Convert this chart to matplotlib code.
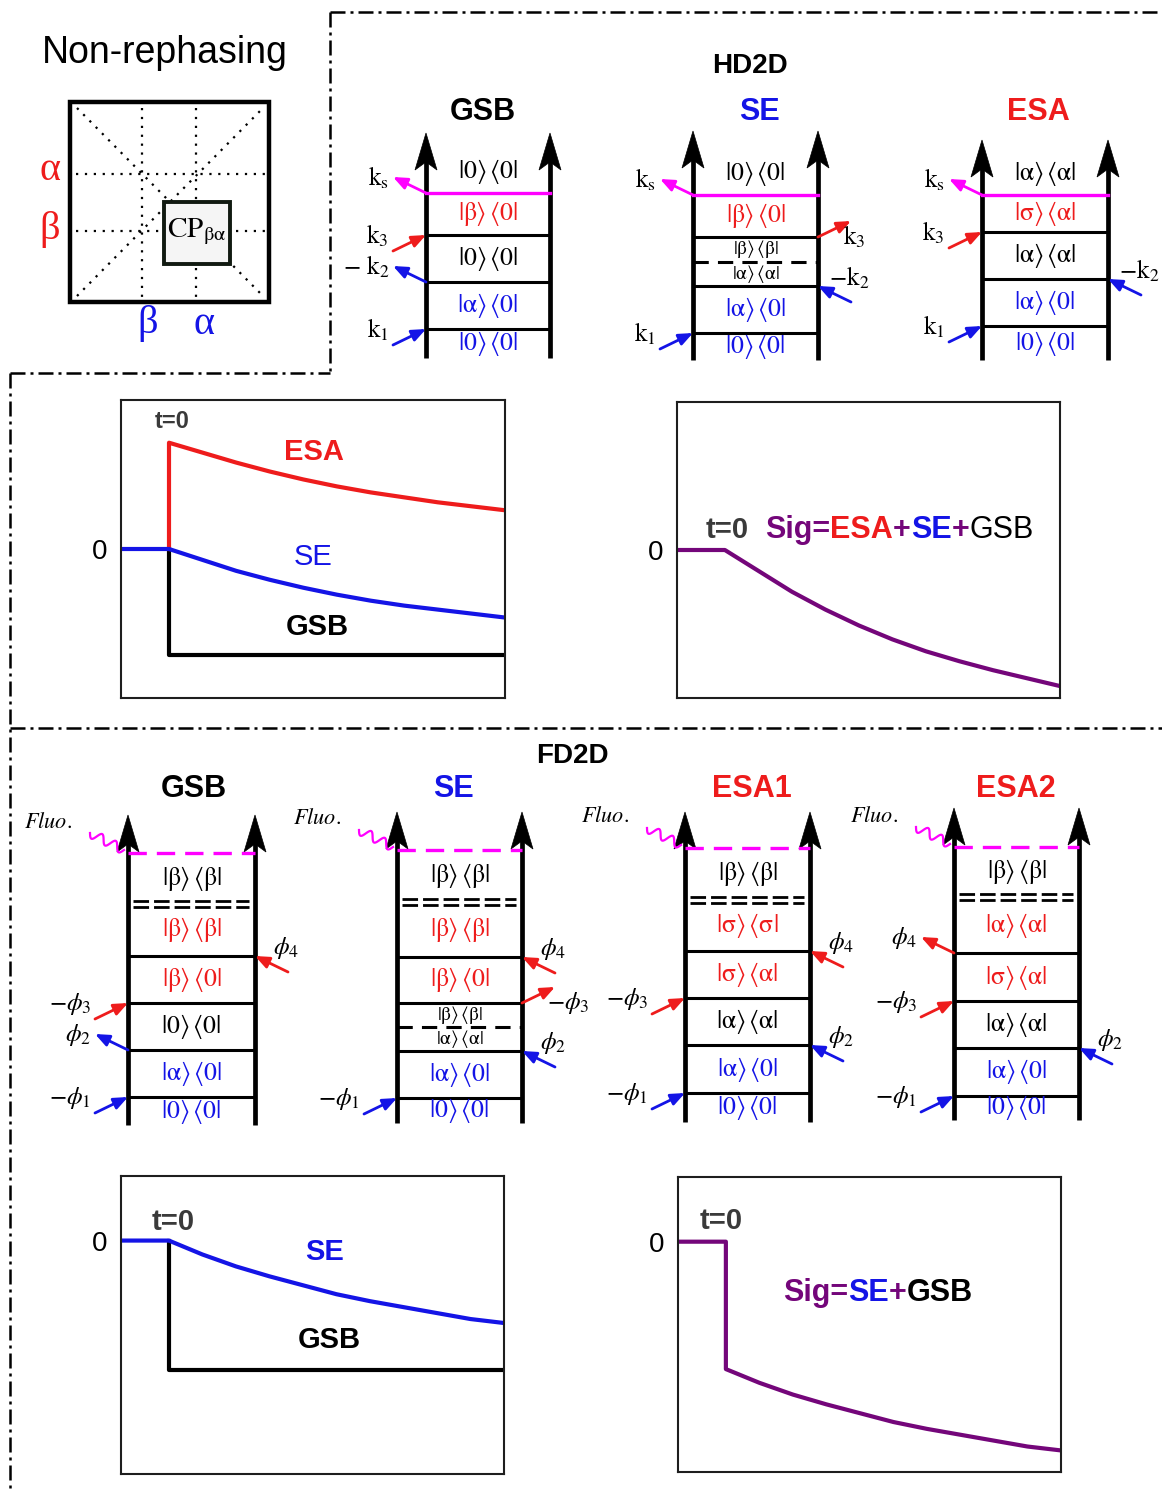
import numpy as np
import matplotlib.pyplot as plt
from matplotlib.patches import Rectangle, Polygon

plt.rcParams['font.family'] = ['Liberation Sans', 'DejaVu Sans']
plt.rcParams['mathtext.fontset'] = 'stix'
plt.rcParams['mathtext.default'] = 'rm'

W, H = 1162, 1493
RED, BLUE, MAG, PURPLE, GREY = '#ee1c1c', '#1414e6', '#ff00ff', '#74067a', '#3a3a3a'
col = {'r': RED, 'b': BLUE, 'k': 'black', 'm': MAG}

# signal traces after t = 0 (arbitrary units)
t = [0.0, 0.7, 1.4, 2.1, 2.8, 3.5, 4.2, 4.9, 5.6, 6.3, 7.0]
hd_esa = [1.07, 0.97, 0.87, 0.78, 0.70, 0.63, 0.57, 0.52, 0.47, 0.43, 0.39]
hd_se = [0.0, -0.11, -0.22, -0.31, -0.39, -0.46, -0.52, -0.57, -0.61, -0.65, -0.69]
hd_gsb = -1.07
fd_se = [0.0, -0.14, -0.26, -0.36, -0.45, -0.54, -0.61, -0.67, -0.73, -0.79, -0.83]
fd_gsb = -1.30

# density-matrix states of each diagram, bottom to top: (ket, bra, colour, small)
A, B, S = r'\alpha', r'\beta', r'\sigma'
hd_gsb_states = [('0', '0', 'b', 0), (A, '0', 'b', 0), ('0', '0', 'k', 0), (B, '0', 'r', 0), ('0', '0', 'k', 0)]
hd_se_states = [('0', '0', 'b', 0), (A, '0', 'b', 0), (A, A, 'k', 1), (B, B, 'k', 1), (B, '0', 'r', 0), ('0', '0', 'k', 0)]
hd_esa_states = [('0', '0', 'b', 0), (A, '0', 'b', 0), (A, A, 'k', 0), (S, A, 'r', 0), (A, A, 'k', 0)]
fd_gsb_states = [('0', '0', 'b', 0), (A, '0', 'b', 0), ('0', '0', 'k', 0), (B, '0', 'r', 0), (B, B, 'r', 0), (B, B, 'k', 0)]
fd_se_states = [('0', '0', 'b', 0), (A, '0', 'b', 0), (A, A, 'k', 1), (B, B, 'k', 1), (B, '0', 'r', 0), (B, B, 'r', 0), (B, B, 'k', 0)]
fd_esa1_states = [('0', '0', 'b', 0), (A, '0', 'b', 0), (A, A, 'k', 0), (S, A, 'r', 0), (S, S, 'r', 0), (B, B, 'k', 0)]
fd_esa2_states = [('0', '0', 'b', 0), (A, '0', 'b', 0), (A, A, 'k', 0), (S, A, 'r', 0), (A, A, 'r', 0), (B, B, 'k', 0)]

# field interactions: (rung, side, direction, label, colour)
k1, k2, k2s, k3, ks = (r'$\mathrm{k}_1$', r'$-\mathrm{k}_2$', r'$-\ \mathrm{k}_2$',
                       r'$\mathrm{k}_3$', r'$\mathrm{k}_\mathrm{s}$')
p1, p2, p3, p4 = (r'$-\mathit{\phi}_1$', r'$\mathit{\phi}_2$', r'$-\mathit{\phi}_3$', r'$\mathit{\phi}_4$')
hd_gsb_fields = [(0, 'L', 'in', k1, 'b'), (1, 'L', 'out', k2s, 'b'), (2, 'L', 'in', k3, 'r'), (3, 'L', 'out', ks, 'm')]
hd_se_fields = [(0, 'L', 'in', k1, 'b'), (1, 'R', 'in', k2, 'b'), (3, 'R', 'out', k3, 'r'), (4, 'L', 'out', ks, 'm')]
hd_esa_fields = [(0, 'L', 'in', k1, 'b'), (1, 'R', 'in', k2, 'b'), (2, 'L', 'in', k3, 'r'), (3, 'L', 'out', ks, 'm')]
fd_gsb_fields = [(0, 'L', 'in', p1, 'b'), (1, 'L', 'out', p2, 'b'), (2, 'L', 'in', p3, 'r'), (3, 'R', 'in', p4, 'r')]
fd_se_fields = [(0, 'L', 'in', p1, 'b'), (1, 'R', 'in', p2, 'b'), (3, 'R', 'out', p3, 'r'), (4, 'R', 'in', p4, 'r')]
fd_esa1_fields = [(0, 'L', 'in', p1, 'b'), (1, 'R', 'in', p2, 'b'), (2, 'L', 'in', p3, 'r'), (3, 'R', 'in', p4, 'r')]
fd_esa2_fields = [(0, 'L', 'in', p1, 'b'), (1, 'R', 'in', p2, 'b'), (2, 'L', 'in', p3, 'r'), (3, 'L', 'out', p4, 'r')]

fig = plt.figure(figsize=(W / 100, H / 100), dpi=100)
ax = fig.add_axes([0, 0, 1, 1])
ax.set_xlim(0, W)
ax.set_ylim(H, 0)
ax.axis('off')

# panel separators
dd = dict(color='black', lw=1.8, linestyle=(0, (6, 2, 1.2, 2)))
for xs, ys in [([330, 1162], [12, 12]), ([330, 330], [12, 373]), ([10, 330], [373, 373]),
               ([10, 10], [373, 1493]), ([10, 1162], [728, 728])]:
    ax.plot(xs, ys, **dd)

# non-rephasing 2D map sketch
ax.text(165, 53, 'Non-rephasing', fontsize=27, ha='center', va='center')
ax.add_patch(Rectangle((70, 102), 199, 200, fill=False, lw=3.2, ec='black'))
dot = dict(color='black', lw=1.6, linestyle=(0, (1, 3)))
for x in (142, 196):
    ax.plot([x, x], [108, 297], **dot)
for y in (174, 231):
    ax.plot([76, 265], [y, y], **dot)
ax.plot([77, 263], [108, 296], **dot)
ax.plot([77, 263], [296, 108], **dot)
ax.add_patch(Rectangle((164, 202), 66, 62, fc='#f5f5f5', ec='#111a11', lw=2.8, zorder=3))
ax.text(197, 232, r'$\mathrm{CP}_{\beta\alpha}$', fontsize=21, ha='center', va='center', zorder=4)
greek = dict(fontsize=29, ha='center', va='center', family='Liberation Serif')
ax.text(50, 170, 'α', color=RED, **greek)
ax.text(50, 229, 'β', color=RED, **greek)
ax.text(148, 324, 'β', color=BLUE, **greek)
ax.text(204, 324, 'α', color=BLUE, **greek)


def ladder(xl, xr, ytop, ybot, rungs, states, fields, hd=True):
    for x in (xl, xr):
        ax.plot([x, x], [ybot, ytop + 25], color='black', lw=3.4, solid_capstyle='butt')
        ax.add_patch(Polygon([(x, ytop), (x + 11, ytop + 37), (x, ytop + 29), (x - 11, ytop + 37)],
                             closed=True, fc='black', ec='black', lw=0.5))
    for y, kind in rungs:
        if kind == '-':
            ax.plot([xl, xr], [y, y], color='black', lw=2.2)
        elif kind == 'm':
            ax.plot([xl, xr], [y, y], color=MAG, lw=2.4)
        elif kind == 'm--':
            ax.plot([xl, xr], [y, y], color=MAG, lw=2.4, linestyle=(0, (5.5, 3)))
        elif kind == '--':
            ax.plot([xl, xr], [y, y], color='black', lw=2.2, linestyle=(0, (5, 3)))
        elif kind == '=':
            for dy in (-3, 3):
                ax.plot([xl + 5, xr - 6], [y + dy, y + dy], color='black', lw=2.0, linestyle=(0, (5.6, 1.8)))
    bounds = [ybot] + [y for y, _ in rungs]
    if hd:
        bounds.append(rungs[-1][0] - 44)
    for i, (a, b, c, small) in enumerate(states):
        ym = (bounds[i] + bounds[i + 1]) / 2
        ax.text((xl + xr) / 2, ym, r'$|%s\rangle\,\langle %s|$' % (a, b), color=col[c],
                fontsize=14 if small else 18.5, ha='center', va='center')
    for idx, side, way, lab, c in fields:
        y = rungs[idx][0]
        x = xl if side == 'L' else xr
        sx = -1 if side == 'L' else 1
        if way == 'in':
            outer = (x + 33 * sx, y + 16)
            tail, tip = outer, (x, y)
        else:
            outer = (x + 33 * sx, y - 16)
            tail, tip = (x, y), outer
        ax.annotate('', xy=tip, xytext=tail,
                    arrowprops=dict(arrowstyle='-|>,head_length=0.6,head_width=0.25', color=col[c],
                                    lw=2, shrinkA=0, shrinkB=0, mutation_scale=14))
        if side == 'L':
            lx, ha = outer[0] - 4, 'right'
            ly = outer[1] - 15 if way == 'in' else outer[1] + 1
        elif way == 'in':
            lx, ha = outer[0] - 2, 'center'
            ly = outer[1] - 24
        else:
            lx, ha = outer[0] - 8, 'left'
            ly = outer[1] + 16
        ax.text(lx, ly, lab, fontsize=18, ha=ha, va='center')
    if not hd:
        # emitted fluorescence
        ym = rungs[-1][0]
        s = np.linspace(0, 1, 120)
        p0 = np.array([xl - 38, ym - 20])
        d = np.array([34, 17])
        n = np.array([-d[1], d[0]]) / np.hypot(*d)
        pts = p0[None, :] + s[:, None] * d[None, :] + 4.5 * np.sin(2 * np.pi * 2.5 * s)[:, None] * n[None, :]
        ax.plot(pts[:, 0], pts[:, 1], color=MAG, lw=1.6)
        ax.text(xl - 80, ym - 31, r'$\mathit{Fluo.}$', fontsize=16, ha='center', va='center')


title = dict(fontsize=22, fontweight='bold', ha='center', va='center')
ax.text(750, 66, 'HD2D', fontsize=20, fontweight='bold', ha='center', va='center')
ax.text(483, 112, 'GSB', color='black', **title)
ax.text(759, 112, 'SE', color=BLUE, **title)
ax.text(1038, 112, 'ESA', color=RED, **title)
ladder(426, 550, 133, 358, [(329, '-'), (282, '-'), (235, '-'), (193, 'm')], hd_gsb_states, hd_gsb_fields)
ladder(693, 818, 131, 360, [(333, '-'), (286, '-'), (262, '--'), (237, '-'), (195, 'm')], hd_se_states, hd_se_fields)
ladder(982, 1108, 140, 360, [(326, '-'), (279, '-'), (232, '-'), (195, 'm')], hd_esa_states, hd_esa_fields)

ax.text(572, 756, 'FD2D', fontsize=20, fontweight='bold', ha='center', va='center')
ax.text(194, 789, 'GSB', color='black', **title)
ax.text(453, 789, 'SE', color=BLUE, **title)
ax.text(752, 789, 'ESA1', color=RED, **title)
ax.text(1016, 789, 'ESA2', color=RED, **title)
ladder(128, 255, 815, 1125, [(1097, '-'), (1050, '-'), (1003, '-'), (956, '-'), (904, '='), (853, 'm--')],
       fd_gsb_states, fd_gsb_fields, hd=False)
ladder(397, 522, 812, 1123, [(1098, '-'), (1051, '-'), (1027, '--'), (1003, '-'), (957, '-'), (902, '='), (850, 'm--')],
       fd_se_states, fd_se_fields, hd=False)
ladder(685, 810, 812, 1122, [(1093, '-'), (1045, '-'), (998, '-'), (951, '-'), (900, '='), (848, 'm--')],
       fd_esa1_states, fd_esa1_fields, hd=False)
ladder(954, 1079, 808, 1120, [(1096, '-'), (1048, '-'), (1001, '-'), (953, '-'), (897, '='), (847, 'm--')],
       fd_esa2_states, fd_esa2_fields, hd=False)


def sig_axes(x0, y0, x1, y1, ylim):
    a = fig.add_axes([x0 / W, 1 - y1 / H, (x1 - x0) / W, (y1 - y0) / H])
    a.set_xlim(-1, 7)
    a.set_ylim(*ylim)
    a.set_xticks([])
    a.set_yticks([0])
    a.set_yticklabels(['0'], fontsize=20)
    a.tick_params(axis='y', length=0, pad=10)
    for sp in a.spines.values():
        sp.set_linewidth(1.5)
        sp.set_color('#1e1e1e')
    return a


def rainbow(a, x, y, parts, size):
    txt = a.text(x, y, parts[0][0], color=parts[0][1], fontsize=size, fontweight=parts[0][2],
                 va='center', ha='left')
    for s, c, w in parts[1:]:
        txt = a.annotate(s, xy=(1, 0), xycoords=txt, color=c, fontsize=size, fontweight=w,
                         va='bottom', ha='left')


lw = 3.0
# HD2D: individual pathways
a1 = sig_axes(121, 400, 505, 698, (-1.5, 1.5))
a1.plot([0, 0, 7], [0, hd_gsb, hd_gsb], color='black', lw=lw)
a1.plot([0] + t, [0] + hd_esa, color=RED, lw=lw)
a1.plot([-1] + t, [0] + hd_se, color=BLUE, lw=lw)
a1.text(0.06, 1.28, 't=0', color=GREY, fontsize=17, fontweight='bold', ha='center', va='center')
a1.text(3.02, 0.98, 'ESA', color=RED, fontsize=21, fontweight='bold', ha='center', va='center')
a1.text(3.0, -0.08, 'SE', color=BLUE, fontsize=21, ha='center', va='center')
a1.text(3.1, -0.79, 'GSB', color='black', fontsize=21, fontweight='bold', ha='center', va='center')

# HD2D: total signal
sig_hd = [e + s + hd_gsb for e, s in zip(hd_esa, hd_se)]
a2 = sig_axes(677, 402, 1060, 698, (-1.49, 1.49))
a2.plot([-1] + t, [0] + sig_hd, color=PURPLE, lw=lw)
a2.text(0.04, 0.2, 't=0', color=GREY, fontsize=21, fontweight='bold', ha='center', va='center')
rainbow(a2, 0.84, 0.2, [('Sig=', PURPLE, 'bold'), ('ESA', RED, 'bold'), ('+', PURPLE, 'bold'),
                        ('SE', BLUE, 'bold'), ('+', PURPLE, 'bold'), ('GSB', 'black', 'normal')], 22)

# FD2D: individual pathways
a3 = sig_axes(121, 1176, 504, 1474, (-2.35, 0.65))
a3.plot([0, 0, 7], [0, fd_gsb, fd_gsb], color='black', lw=lw)
a3.plot([-1] + t, [0] + fd_se, color=BLUE, lw=lw)
a3.text(0.08, 0.19, 't=0', color=GREY, fontsize=21, fontweight='bold', ha='center', va='center')
a3.text(3.25, -0.12, 'SE', color=BLUE, fontsize=21, fontweight='bold', ha='center', va='center')
a3.text(3.35, -1.0, 'GSB', color='black', fontsize=21, fontweight='bold', ha='center', va='center')

# FD2D: total signal
sig_fd = [s + fd_gsb for s in fd_se]
a4 = sig_axes(678, 1177, 1061, 1472, (-2.35, 0.66))
a4.plot([-1, 0] + t, [0, 0] + sig_fd, color=PURPLE, lw=lw)
a4.text(-0.1, 0.21, 't=0', color=GREY, fontsize=21, fontweight='bold', ha='center', va='center')
rainbow(a4, 1.19, -0.52, [('Sig=', PURPLE, 'bold'), ('SE', BLUE, 'bold'), ('+', PURPLE, 'bold'),
                          ('GSB', 'black', 'bold')], 22)

fig.savefig('out.png', dpi=100)
